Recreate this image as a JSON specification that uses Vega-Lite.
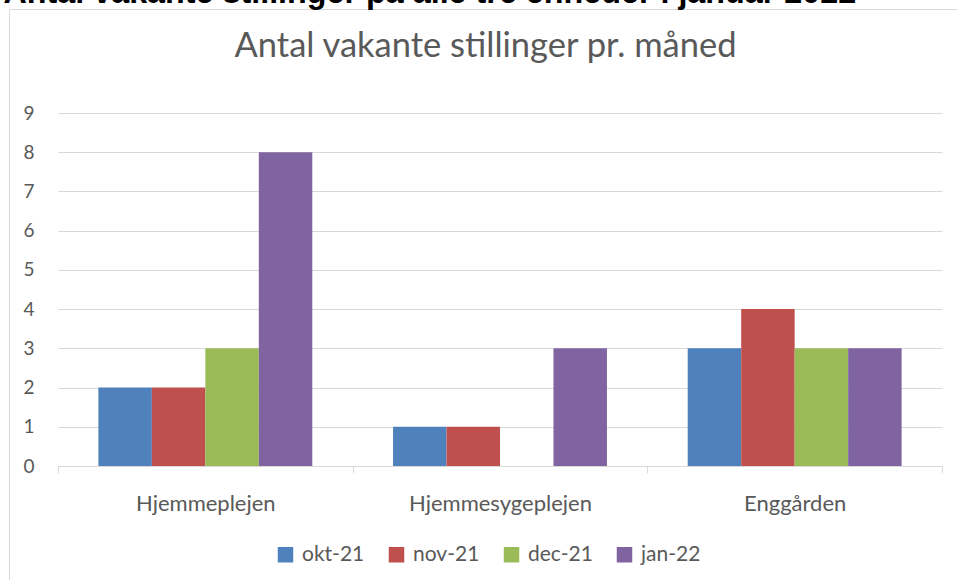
{
  "$schema": "https://vega.github.io/schema/vega-lite/v6.json",
  "autosize": "none",
  "width": 948,
  "height": 571,
  "padding": {"left": 9, "top": 9, "right": 0, "bottom": 0},
  "background": "white",
  "config": {
    "view": {"stroke": "#d9d9d9", "strokeWidth": 1},
    "font": "Lato"
  },
  "data": {
    "values": [
      {"unit": "Hjemmeplejen", "month": "okt-21", "value": 2},
      {"unit": "Hjemmeplejen", "month": "nov-21", "value": 2},
      {"unit": "Hjemmeplejen", "month": "dec-21", "value": 3},
      {"unit": "Hjemmeplejen", "month": "jan-22", "value": 8},
      {"unit": "Hjemmesygeplejen", "month": "okt-21", "value": 1},
      {"unit": "Hjemmesygeplejen", "month": "nov-21", "value": 1},
      {"unit": "Hjemmesygeplejen", "month": "dec-21", "value": 0},
      {"unit": "Hjemmesygeplejen", "month": "jan-22", "value": 3},
      {"unit": "Enggården", "month": "okt-21", "value": 3},
      {"unit": "Enggården", "month": "nov-21", "value": 4},
      {"unit": "Enggården", "month": "dec-21", "value": 3},
      {"unit": "Enggården", "month": "jan-22", "value": 3}
    ]
  },
  "resolve": {"axis": {"x": "independent", "y": "independent"}},
  "layer": [
    {
      "mark": {"type": "bar"},
      "encoding": {
        "x": {
          "field": "unit", "type": "nominal",
          "sort": ["Hjemmeplejen", "Hjemmesygeplejen", "Enggården"],
          "scale": {"type": "band", "range": [49, 933], "paddingInner": 0, "paddingOuter": 0},
          "axis": {
            "orient": "bottom", "offset": -114, "title": null,
            "domain": true, "domainColor": "#d9d9d9", "domainWidth": 1,
            "ticks": true, "tickColor": "#d9d9d9", "tickSize": 7, "tickWidth": 1, "tickBand": "extent",
            "labels": true, "labelAngle": 0, "labelFontSize": 22, "labelColor": "#595959", "labelPadding": 20,
            "labelFont": "Lato", "labelLimit": 500, "grid": false
          }
        },
        "xOffset": {
          "field": "month", "type": "nominal", "sort": ["okt-21", "nov-21", "dec-21", "jan-22"],
          "scale": {"paddingInner": 0, "paddingOuter": 0.755}
        },
        "y": {
          "field": "value", "type": "quantitative",
          "scale": {"domain": [0, 9], "range": [457, 104], "nice": false},
          "axis": {
            "orient": "left", "offset": -49,
            "values": [0, 1, 2, 3, 4, 5, 6, 7, 8, 9],
            "domain": false, "ticks": false, "tickSize": 0, "grid": false,
            "labelFontSize": 19, "labelColor": "#595959", "labelPadding": 24, "labelFont": "Lato",
            "title": "Antal vakante stillinger pr. måned",
            "titleAngle": 0, "titleX": 427, "titleY": 47,
            "titleAlign": "center", "titleBaseline": "alphabetic",
            "titleFont": "Lato", "titleFontWeight": "normal", "titleFontSize": 34.5,
            "titleColor": "#595959", "titleLimit": 3000
          }
        },
        "color": {
          "field": "month", "type": "nominal",
          "sort": ["okt-21", "nov-21", "dec-21", "jan-22"],
          "scale": {"domain": ["okt-21", "nov-21", "dec-21", "jan-22"], "range": ["#4f81bd", "#c0504d", "#9bbb59", "#8064a2"]},
          "legend": {
            "orient": "none", "legendX": 266, "legendY": 535,
            "direction": "horizontal", "columns": 4, "title": null,
            "symbolType": "square", "symbolSize": 240, "symbolStrokeWidth": 0, "symbolOpacity": 1,
            "labelFontSize": 21, "labelColor": "#595959", "labelOffset": 6, "labelFont": "Lato",
            "columnPadding": 21
          }
        }
      }
    },
    {
      "mark": {"type": "bar", "opacity": 0},
      "encoding": {
        "x": {
          "field": "unit", "type": "nominal",
          "sort": ["Hjemmeplejen", "Hjemmesygeplejen", "Enggården"],
          "scale": {"type": "band", "range": [49, 933], "paddingInner": 0, "paddingOuter": 0},
          "axis": null
        },
        "y": {
          "field": "value", "type": "quantitative",
          "scale": {"domain": [0, 9], "range": [457, 104], "nice": false},
          "axis": {
            "orient": "right", "offset": -15,
            "values": [1, 2, 3, 4, 5, 6, 7, 8, 9],
            "labels": false, "domain": false, "grid": false,
            "ticks": true, "tickSize": -884, "tickColor": "#d9d9d9", "tickWidth": 1,
            "title": "Antal vakante stillinger på alle tre enheder i januar 2022",
            "titleAngle": 0, "titleX": -939, "titleY": -6.5,
            "titleAlign": "left", "titleBaseline": "alphabetic",
            "titleFont": "Liberation Sans", "titleFontWeight": "bold", "titleFontSize": 32.3,
            "titleColor": "#000000", "titleLimit": 3000
          }
        }
      }
    }
  ]
}
